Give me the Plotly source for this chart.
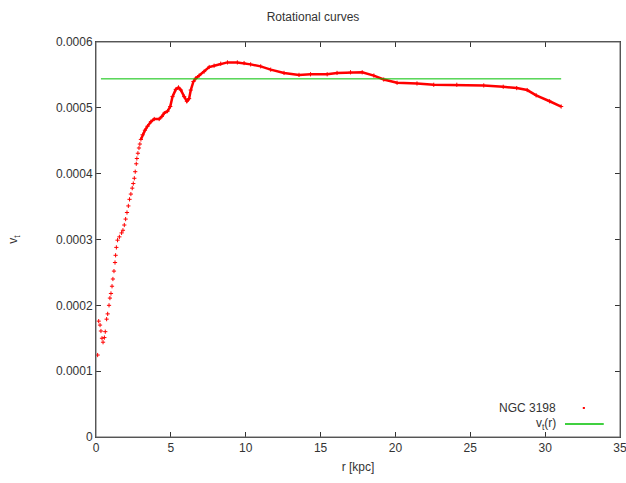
import plotly.graph_objects as go

# NGC 3198 rotation curve
r_kpc = [0.11, 0.18, 0.27, 0.33, 0.40, 0.47, 0.56, 0.62, 0.71, 0.78, 0.87, 0.93, 1.00, 1.07,
         1.13, 1.20, 1.27, 1.31, 1.36, 1.44, 1.56, 1.71, 1.80, 1.89, 1.98, 2.07, 2.16, 2.24,
         2.33, 2.42, 2.49, 2.56, 2.62, 2.69, 2.73, 2.80, 2.87, 2.93, 3.00, 3.11, 3.27, 3.44,
         3.67, 3.89, 4.22, 4.40, 4.56, 4.78, 4.96, 5.11, 5.33, 5.51, 5.67, 5.89, 6.07, 6.22,
         6.33, 6.51, 6.67, 6.89, 7.22, 7.56, 7.89, 8.33, 8.78, 9.44, 9.89, 10.33, 11.00,
         11.67, 12.56, 13.56, 14.33, 15.44, 16.10, 17.00, 17.78, 18.56, 19.22, 20.11, 21.44,
         22.56, 24.10, 25.90, 27.20, 28.10, 28.80, 29.40, 30.30, 31.07]
v_t = [0.0001245, 0.000176, 0.000170, 0.000161, 0.000150, 0.000144, 0.000151, 0.000160,
       0.000179, 0.000187, 0.000200, 0.000211, 0.000218, 0.000229, 0.000240, 0.000252,
       0.000265, 0.000276, 0.000288, 0.000299, 0.000304, 0.000310, 0.000314, 0.000322,
       0.000331, 0.000341, 0.000351, 0.000361, 0.000369, 0.000378, 0.000385, 0.000393,
       0.000403, 0.000415, 0.000423, 0.000431, 0.000439, 0.000445, 0.000452, 0.000459,
       0.000466, 0.000472, 0.000479, 0.000483, 0.000483, 0.000487, 0.000492, 0.000495,
       0.000502, 0.000517, 0.000528, 0.000531, 0.000527, 0.000517, 0.000510, 0.000514,
       0.000527, 0.000540, 0.000545, 0.000549, 0.000555, 0.000562, 0.000564, 0.000567,
       0.000569, 0.000569, 0.000568, 0.000566, 0.000563, 0.000558, 0.000553, 0.000550,
       0.000551, 0.000551, 0.000553, 0.000554, 0.000554, 0.000549, 0.000543, 0.000538,
       0.000537, 0.000535, 0.000535, 0.000534, 0.000532, 0.000530, 0.000527, 0.000519,
       0.000510, 0.000502]

# model curve v_t(r)
r_model = [0.33, 31.07]
v_model = [0.000544, 0.000544]

x_ticks = [0, 5, 10, 15, 20, 25, 30, 35]
y_ticks = [0, 0.0001, 0.0002, 0.0003, 0.0004, 0.0005, 0.0006]
y_tick_text = ["0", "0.0001", "0.0002", "0.0003", "0.0004", "0.0005", "0.0006"]

dense_start = 3.0
r_dense = [r for r in r_kpc if r >= dense_start]
v_dense = [v for r, v in zip(r_kpc, v_t) if r >= dense_start]

FONT = "Liberation Sans, Arial, sans-serif"
TXT = "#333333"

fig = go.Figure()
fig.add_trace(go.Scatter(x=r_kpc, y=v_t, mode="markers", name="NGC 3198",
                         marker=dict(symbol="cross-thin", size=3, color="#ff0000",
                                     line=dict(width=1, color="#ff0000")),
                         showlegend=False, cliponaxis=False))
fig.add_trace(go.Scatter(x=r_dense, y=v_dense, mode="lines", line=dict(color="#ff0000", width=2.5),
                         showlegend=False, hoverinfo="skip"))
fig.add_trace(go.Scatter(x=r_model, y=v_model, mode="lines", name="v<sub>t</sub>(r)",
                         line=dict(color="#00c000", width=1), showlegend=False))

axis_common = dict(showgrid=False, zeroline=False, ticks="inside", ticklen=5,
                   tickcolor="#333333", linecolor="#444444", linewidth=1, showline=True,
                   mirror="ticks", automargin=False, ticklabeloverflow="allow",
                   tickfont=dict(family=FONT, size=12, color=TXT))
fig.update_xaxes(range=[0, 35], tickvals=x_ticks, title=dict(text="r [kpc]", standoff=8,
                 font=dict(family=FONT, size=12, color=TXT)), **axis_common)
fig.update_yaxes(range=[0, 0.0006], tickvals=y_ticks, ticktext=y_tick_text,
                 title=dict(text="v<sub>t</sub>", standoff=35, font=dict(family=FONT, size=12, color=TXT)),
                 **axis_common)

# plot frame (gnuplot border)
fig.add_shape(type="rect", xref="paper", yref="paper", x0=0, x1=1, y0=0, y1=1,
              line=dict(color="#666666", width=1), layer="above")

# gnuplot-style legend (text left, sample right)
fig.add_annotation(xref="paper", yref="paper", x=0.882, y=0.073, text="NGC 3198", showarrow=False,
                   xanchor="right", yanchor="middle", font=dict(family=FONT, size=12, color=TXT))
fig.add_annotation(xref="paper", yref="paper", x=0.882, y=0.033, text="v<sub>t</sub>(r)", showarrow=False,
                   xanchor="right", yanchor="middle", font=dict(family=FONT, size=12, color=TXT))
fig.add_shape(type="line", xref="paper", yref="paper", x0=0.895, x1=0.969, y0=0.033, y1=0.033,
              line=dict(color="#00c000", width=1.5))
fig.add_shape(type="rect", xref="paper", yref="paper", x0=0.929, x1=0.933, y0=0.071, y1=0.076,
              line=dict(width=0), fillcolor="#ff0000")

fig.update_layout(
    width=626, height=483,
    margin=dict(l=96, r=6, t=42, b=46, autoexpand=False),
    paper_bgcolor="white", plot_bgcolor="white",
    title=dict(text="Rotational curves", x=0.5, xanchor="center", y=0.965, yanchor="middle",
               font=dict(family=FONT, size=12, color=TXT)),
    showlegend=False,
)

fig.write_html("out.html", config={"displayModeBar": False},
               post_script="document.body.style.margin='0';document.body.style.overflow='hidden';")
